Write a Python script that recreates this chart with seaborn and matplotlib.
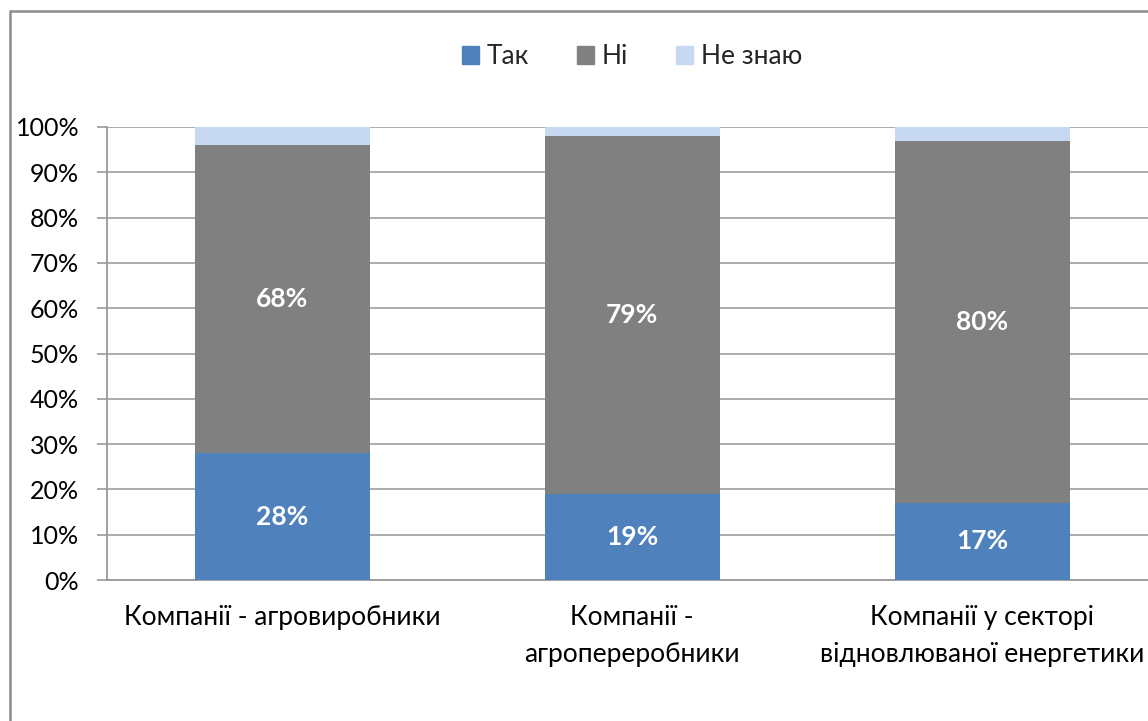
import matplotlib
matplotlib.use("Agg")
import matplotlib.pyplot as plt
import matplotlib.patches as mpatches
import numpy as np
import pandas as pd
import seaborn as sns

categories = ["Компанії - агровиробники",
              "Компанії -\nагропереробники",
              "Компанії у секторі\nвідновлюваної енергетики"]
series_names = ["Так", "Ні", "Не знаю"]
yes = [28, 19, 17]
no = [68, 79, 80]
unsure = [4, 2, 3]
colors = ["#4F81BD", "#808080", "#C6D9F1"]
y_ticks = list(range(0, 101, 10))

sns.set_theme(style="white")
plt.rcParams["font.family"] = ["Lato", "DejaVu Sans"]

df = pd.DataFrame({"cat": categories, "Так": yes, "Ні": no, "Не знаю": unsure})
df["cum_yes"] = df["Так"]
df["cum_no"] = df["Так"] + df["Ні"]
df["cum_all"] = df["Так"] + df["Ні"] + df["Не знаю"]

fig = plt.figure(figsize=(11.48, 7.21), dpi=100)
ax = fig.add_axes([107 / 1148, 1 - 580 / 721, 1050 / 1148, 453 / 721])

# stacked bars drawn as overlapping cumulative totals
for col, color in zip(["cum_all", "cum_no", "cum_yes"], colors[::-1]):
    sns.barplot(data=df, x="cat", y=col, color=color, width=0.5,
                saturation=1, ax=ax, zorder=3, linewidth=0)

ax.set_xlim(-0.5, 2.5)
ax.set_ylim(0, 100)
ax.set_yticks(y_ticks)
ax.set_yticklabels([f"{v}%" for v in y_ticks], fontsize=18, color="black")
ax.yaxis.grid(True, color="#A6A6A6", linewidth=1.3, zorder=0)
ax.set_axisbelow(True)
ax.set_xlabel("")
ax.set_ylabel("")
ax.set_xticks(range(len(categories)))
ax.set_xticklabels(categories, fontsize=19, color="black", linespacing=1.6,
                   va="top")
ax.set_xticks([-0.5, 0.5, 1.5, 2.5], minor=True)
ax.tick_params(axis="x", which="major", length=0, pad=18)
ax.tick_params(axis="x", which="minor", length=6, width=1.2, color="#999999", direction="out")
ax.tick_params(axis="y", which="major", length=7, width=1.2, color="#999999", direction="out", pad=13, left=True)
for side in ["top", "right"]:
    ax.spines[side].set_visible(False)
for side in ["left", "bottom"]:
    ax.spines[side].set_color("#999999")
    ax.spines[side].set_linewidth(1.3)

# value labels on the two main segments
for i in range(len(categories)):
    ax.text(i, yes[i] / 2, f"{yes[i]}%", ha="center", va="center",
            color="white", fontsize=19, fontweight="bold", zorder=5)
    ax.text(i, yes[i] + no[i] / 2, f"{no[i]}%", ha="center", va="center",
            color="white", fontsize=19, fontweight="bold", zorder=5)

handles = [mpatches.Patch(color=c, label=n) for c, n in zip(colors, series_names)]
fig.legend(handles=handles, loc="center", bbox_to_anchor=(632 / 1148, 1 - 57 / 721),
           ncol=3, frameon=False, fontsize=19, handlelength=0.65, handleheight=0.65,
           handletextpad=0.3, columnspacing=1.8)

# outer chart frame
frame = mpatches.Rectangle((10 / 1148, -0.2), 1.2, 1.2 - 11 / 721 + 0.0,
                           transform=fig.transFigure, fill=False,
                           edgecolor="#8C8C8C", linewidth=1.8, clip_on=False)
fig.patches.append(frame)

fig.savefig("out.png", dpi=100)
